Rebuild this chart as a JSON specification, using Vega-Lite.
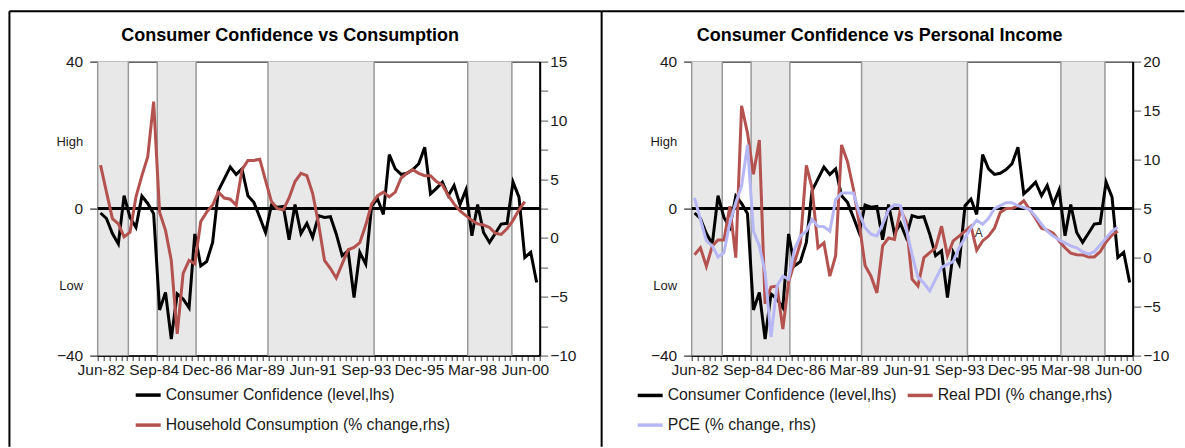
{
  "$schema": "https://vega.github.io/schema/vega-lite/v6.json",
  "padding": {"left": 7.7, "top": 9.6, "right": 0, "bottom": 0},
  "background": "white",
  "bounds": "flush",
  "spacing": 152,
  "config": {
    "font": "Liberation Sans",
    "view": {"stroke": "#000", "strokeWidth": 1},
    "axis": {"labelFont": "Liberation Sans", "labelFontSize": 15.5, "labelColor": "#1a1a1a", "domainColor": "#000", "tickColor": "#333", "grid": false}
  },
  "resolve": {"scale": {"color": "independent"}, "legend": {"color": "independent"}},
  "datasets": {
    "q": [
      {"d": "1982-05-15", "cc": -1.2, "hc": 6.2, "pdi": 0.3, "pce": 6.1},
      {"d": "1982-08-15", "cc": -2.7, "hc": 3.9, "pdi": 1.0, "pce": 3.9},
      {"d": "1982-11-15", "cc": -6.8, "hc": 1.65, "pdi": -0.9, "pce": 1.7},
      {"d": "1983-02-15", "cc": -9.6, "hc": 1.2, "pdi": 1.2, "pce": 1.2},
      {"d": "1983-05-15", "cc": 3.5, "hc": 0.1, "pdi": 1.8, "pce": 0.07},
      {"d": "1983-08-15", "cc": -2.4, "hc": 0.5, "pdi": 1.8, "pce": 0.5},
      {"d": "1983-11-15", "cc": -5.1, "hc": 3.5, "pdi": 5.25, "pce": 3.55},
      {"d": "1984-02-15", "cc": 3.4, "hc": 5.3, "pdi": 0.0, "pce": 5.6},
      {"d": "1984-05-15", "cc": 1.4, "hc": 6.9, "pdi": 15.5, "pce": 7.3},
      {"d": "1984-08-15", "cc": -1.4, "hc": 11.6, "pdi": 12.7, "pce": 11.5},
      {"d": "1984-11-15", "cc": -27.6, "hc": 2.2, "pdi": 8.5, "pce": 2.7},
      {"d": "1985-02-15", "cc": -22.8, "hc": 0.65, "pdi": 12.0, "pce": 1.2},
      {"d": "1985-05-15", "cc": -35.5, "hc": -1.9, "pdi": -4.7, "pce": -1.5},
      {"d": "1985-08-15", "cc": -23.2, "hc": -8.15, "pdi": -3.0, "pce": -8.1},
      {"d": "1985-11-15", "cc": -24.6, "hc": -3.0, "pdi": -2.9, "pce": -2.9},
      {"d": "1986-02-15", "cc": -27.0, "hc": -1.9, "pdi": -7.3, "pce": -1.9},
      {"d": "1986-05-15", "cc": -6.9, "hc": -2.2, "pdi": -2.5, "pce": -2.2},
      {"d": "1986-08-15", "cc": -15.6, "hc": 1.4, "pdi": -0.5, "pce": 0.85},
      {"d": "1986-11-15", "cc": -14.4, "hc": 2.2, "pdi": 1.5, "pce": 2.2},
      {"d": "1987-02-15", "cc": -9.2, "hc": 2.8, "pdi": 9.4, "pce": 2.7},
      {"d": "1987-05-15", "cc": 4.9, "hc": 3.9, "pdi": 7.1, "pce": 3.9},
      {"d": "1987-08-15", "cc": 8.1, "hc": 3.4, "pdi": 1.0, "pce": 3.2},
      {"d": "1987-11-15", "cc": 11.3, "hc": 3.3, "pdi": 1.5, "pce": 3.15},
      {"d": "1988-02-15", "cc": 9.3, "hc": 2.8, "pdi": -1.9, "pce": 2.7},
      {"d": "1988-05-15", "cc": 10.8, "hc": 5.8, "pdi": 0.2, "pce": 5.9},
      {"d": "1988-08-15", "cc": 3.5, "hc": 6.6, "pdi": 11.5, "pce": 6.6},
      {"d": "1988-11-15", "cc": 1.7, "hc": 6.6, "pdi": 9.8, "pce": 6.6},
      {"d": "1989-02-15", "cc": -2.4, "hc": 6.7, "pdi": 7.0, "pce": 6.6},
      {"d": "1989-05-15", "cc": -6.5, "hc": 4.9, "pdi": 3.5, "pce": 4.6},
      {"d": "1989-08-15", "cc": 1.0, "hc": 3.1, "pdi": -0.8, "pce": 3.05},
      {"d": "1989-11-15", "cc": 0.4, "hc": 2.5, "pdi": -1.9, "pce": 2.4},
      {"d": "1990-02-15", "cc": 0.6, "hc": 2.4, "pdi": -3.6, "pce": 2.2},
      {"d": "1990-05-15", "cc": -8.5, "hc": 3.4, "pdi": 1.2, "pce": 3.4},
      {"d": "1990-08-15", "cc": 1.1, "hc": 4.8, "pdi": 2.0, "pce": 4.9},
      {"d": "1990-11-15", "cc": -6.8, "hc": 5.5, "pdi": 1.85, "pce": 5.4},
      {"d": "1991-02-15", "cc": -4.0, "hc": 5.3, "pdi": 4.9, "pce": 5.3},
      {"d": "1991-05-15", "cc": -7.8, "hc": 3.8, "pdi": 3.7, "pce": 3.0},
      {"d": "1991-08-15", "cc": -1.9, "hc": 1.2, "pdi": -2.2, "pce": 0.3},
      {"d": "1991-11-15", "cc": -2.4, "hc": -1.9, "pdi": -2.9, "pce": -2.0},
      {"d": "1992-02-15", "cc": -2.2, "hc": -2.6, "pdi": 0.0, "pce": -2.6},
      {"d": "1992-05-15", "cc": -6.9, "hc": -3.4, "pdi": 0.5, "pce": -3.4},
      {"d": "1992-08-15", "cc": -12.8, "hc": -2.2, "pdi": 1.0, "pce": -2.2},
      {"d": "1992-11-15", "cc": -11.5, "hc": -1.0, "pdi": 3.2, "pce": -1.0},
      {"d": "1993-02-15", "cc": -24.2, "hc": -0.8, "pdi": 0.2, "pce": -0.7},
      {"d": "1993-05-15", "cc": -11.9, "hc": -0.4, "pdi": 1.7, "pce": -0.4},
      {"d": "1993-08-15", "cc": -15.1, "hc": 1.1, "pdi": 2.2, "pce": 1.0},
      {"d": "1993-11-15", "cc": 0.8, "hc": 2.9, "pdi": 2.7, "pce": 2.0},
      {"d": "1994-02-15", "cc": 2.6, "hc": 3.6, "pdi": 3.2, "pce": 3.05},
      {"d": "1994-05-15", "cc": -1.6, "hc": 3.9, "pdi": 0.75, "pce": 3.8},
      {"d": "1994-08-15", "cc": 14.7, "hc": 3.5, "pdi": 1.7, "pce": 3.4},
      {"d": "1994-11-15", "cc": 10.8, "hc": 3.9, "pdi": 2.2, "pce": 4.0},
      {"d": "1995-02-15", "cc": 9.3, "hc": 5.1, "pdi": 3.0, "pce": 5.0},
      {"d": "1995-05-15", "cc": 9.6, "hc": 5.5, "pdi": 4.6, "pce": 5.3},
      {"d": "1995-08-15", "cc": 10.6, "hc": 5.8, "pdi": 5.0, "pce": 5.6},
      {"d": "1995-11-15", "cc": 12.2, "hc": 5.5, "pdi": 5.0, "pce": 5.6},
      {"d": "1996-02-15", "cc": 16.7, "hc": 5.3, "pdi": 5.3, "pce": 5.3},
      {"d": "1996-05-15", "cc": 4.0, "hc": 5.3, "pdi": 5.8, "pce": 5.1},
      {"d": "1996-08-15", "cc": 5.5, "hc": 4.8, "pdi": 4.9, "pce": 4.9},
      {"d": "1996-11-15", "cc": 7.2, "hc": 4.5, "pdi": 4.0, "pce": 4.2},
      {"d": "1997-02-15", "cc": 3.5, "hc": 3.6, "pdi": 3.0, "pce": 3.4},
      {"d": "1997-05-15", "cc": 6.3, "hc": 2.9, "pdi": 2.8, "pce": 2.7},
      {"d": "1997-08-15", "cc": 1.1, "hc": 2.3, "pdi": 2.5, "pce": 2.2},
      {"d": "1997-11-15", "cc": 5.1, "hc": 1.9, "pdi": 1.7, "pce": 1.8},
      {"d": "1998-02-15", "cc": -7.4, "hc": 1.5, "pdi": 1.0, "pce": 1.5},
      {"d": "1998-05-15", "cc": 1.1, "hc": 1.2, "pdi": 0.45, "pce": 1.2},
      {"d": "1998-08-15", "cc": -6.5, "hc": 1.1, "pdi": 0.3, "pce": 1.0},
      {"d": "1998-11-15", "cc": -9.2, "hc": 0.9, "pdi": 0.27, "pce": 0.6},
      {"d": "1999-02-15", "cc": -6.7, "hc": 0.4, "pdi": 0.05, "pce": 0.35},
      {"d": "1999-05-15", "cc": -4.2, "hc": 0.3, "pdi": 0.07, "pce": 0.6},
      {"d": "1999-08-15", "cc": -4.0, "hc": 0.8, "pdi": 0.6, "pce": 1.3},
      {"d": "1999-11-15", "cc": 7.2, "hc": 1.5, "pdi": 1.6, "pce": 2.0},
      {"d": "2000-02-15", "cc": 3.1, "hc": 2.4, "pdi": 2.3, "pce": 2.7},
      {"d": "2000-05-15", "cc": -13.3, "hc": 3.1, "pdi": 2.7, "pce": 3.1},
      {"d": "2000-08-15", "cc": -11.9, "hc": null, "pdi": null, "pce": null},
      {"d": "2000-11-15", "cc": -20.1, "hc": null, "pdi": null, "pce": null}
    ],
    "shade": [
      {"start": "1982-04-01", "end": "1983-07-20"},
      {"start": "1984-10-10", "end": "1986-06-04"},
      {"start": "1989-06-22", "end": "1993-12-22"},
      {"start": "1997-12-13", "end": "1999-10-28"}
    ]
  },
  "hconcat": [
    {
      "width": 442,
      "height": 294,
      "data": {"name": "q"},
      "layer": [
        {
          "data": {"name": "shade"},
          "mark": {"type": "rect", "fill": "#e8e8e8"},
          "encoding": {
            "x": {"field": "start", "type": "temporal", "title": null,
                  "scale": {"type": "utc", "nice": false, "domain": [{"year": 1982, "month": 4, "date": 1, "utc": true}, {"year": 2001, "month": 1, "date": 1, "utc": true}]},
                  "axis": {"orient": "bottom", "title": null, "tickCount": {"interval": "month", "step": 3},
                           "labelExpr": "((utcyear(datum.value)-1982)*4 + floor(utcmonth(datum.value)/3) - 1) % 9 == 0 ? utcFormat(utcOffset('month', datum.value, 2), '%b-%y') : ''",
                           "labelOffset": 3, "labelFlush": false, "labelOverlap": false, "labelBound": false, "labelAngle": 0,
                           "tickSize": 5, "tickColor": "#333", "domainWidth": 1.5, "labelPadding": 2}},
            "x2": {"field": "end"}
          }
        },
        {
          "data": {"name": "shade"},
          "mark": {"type": "rule", "stroke": "#9a9a9a", "strokeWidth": 1.5},
          "encoding": {"x": {"field": "start", "type": "temporal", "title": null}}
        },
        {
          "data": {"name": "shade"},
          "mark": {"type": "rule", "stroke": "#9a9a9a", "strokeWidth": 1.5},
          "encoding": {"x": {"field": "end", "type": "temporal", "title": null}}
        },
        {
          "layer": [
            {
              "data": {"values": [{}]},
              "mark": {"type": "rule", "stroke": "#000", "strokeWidth": 2},
              "encoding": {
                "x": {"datum": {"year": 1978, "month": 7, "date": 3, "utc": true}, "type": "temporal", "title": null},
                "y": {"datum": 53.71, "type": "quantitative", "title": null},
                "y2": {"datum": -64.8}
              }
            },
            {
              "data": {"values": [{}]},
              "mark": {"type": "rule", "stroke": "#000", "strokeWidth": 2},
              "encoding": {
                "x": {"datum": {"year": 2003, "month": 8, "date": 19, "utc": true}, "type": "temporal", "title": null},
                "y": {"datum": 53.71, "type": "quantitative", "title": null},
                "y2": {"datum": -64.8}
              }
            },
            {
              "data": {"values": [{}]},
              "mark": {"type": "rule", "stroke": "#000", "strokeWidth": 2},
              "encoding": {
                "x": {"datum": {"year": 1978, "month": 7, "date": 3, "utc": true}, "type": "temporal", "title": null},
                "x2": {"datum": {"year": 2003, "month": 8, "date": 19, "utc": true}},
                "y": {"datum": 53.71, "type": "quantitative", "title": null}
              }
            },
            {
              "data": {"values": [{"t": "Consumer Confidence vs Consumption"}]},
              "mark": {"type": "text", "font": "Liberation Sans", "fontSize": 18, "fontWeight": "bold", "color": "#000", "align": "center", "baseline": "alphabetic"},
              "encoding": {
                "x": {"datum": {"year": 1990, "month": 6, "date": 1, "utc": true}, "type": "temporal", "title": null},
                "y": {"datum": 45.5, "type": "quantitative", "title": null},
                "text": {"field": "t"}
              }
            },
            {
              "data": {"values": [{}]},
              "mark": {"type": "rule", "stroke": "#000", "strokeWidth": 3},
              "encoding": {"y": {"datum": 0, "type": "quantitative", "title": null}}
            },
            {
              "mark": {"type": "line", "strokeWidth": 3},
              "encoding": {
                "x": {"field": "d", "type": "temporal", "title": null},
                "y": {"field": "cc", "type": "quantitative", "title": null,
                      "scale": {"domain": [-40, 40], "nice": false, "zero": false},
                      "axis": {"orient": "left", "title": null, "values": [40, 18.3, 0, -21, -40],
                               "labelExpr": "datum.value == 18.3 ? 'High' : (datum.value == -21 ? 'Low' : datum.label)",
                               "tickOpacity": {"condition": {"test": "datum.value == 18.3 || datum.value == -21", "value": 0}, "value": 1},
                               "labelFontSize": {"condition": {"test": "datum.value == 18.3 || datum.value == -21", "value": 13}, "value": 15.5},
                               "tickSize": 8, "labelPadding": 7, "tickColor": "#000", "domainWidth": 2, "labelFlush": false}},
                "color": {"datum": "Consumer Confidence (level,lhs)",
                          "scale": {"domain": ["Consumer Confidence (level,lhs)", "Household Consumption (% change,rhs)"], "range": ["#000000", "#b3524f"]},
                          "legend": {"orient": "none", "legendX": 36, "legendY": 319, "direction": "vertical", "title": null,
                                     "symbolType": "stroke", "symbolSize": 625, "symbolStrokeWidth": 3.5,
                                     "labelFont": "Liberation Sans", "labelFontSize": 15.8, "labelColor": "#1a1a1a", "labelLimit": 600,
                                     "rowPadding": 7, "labelOffset": 3, "padding": 0}}
              }
            }
          ]
        },
        {
          "layer": [
            {
              "mark": {"type": "line", "strokeWidth": 3},
              "encoding": {
                "x": {"field": "d", "type": "temporal", "title": null},
                "y": {"field": "hc", "type": "quantitative", "title": null,
                      "scale": {"domain": [-10, 15], "nice": false, "zero": false},
                      "axis": {"orient": "right", "title": null, "values": [-10, -7.5, -5, -2.5, 0, 2.5, 5, 7.5, 10, 12.5, 15],
                               "labelExpr": "datum.value % 5 == 0 ? datum.label : ''",
                               "tickSize": 8, "labelPadding": 2, "tickColor": "#555", "domainWidth": 2, "labelFlush": false}},
                "color": {"datum": "Household Consumption (% change,rhs)"}
              }
            }
          ]
        }
      ],
      "resolve": {"scale": {"y": "independent"}}
    },
    {
      "width": 441,
      "height": 294,
      "data": {"name": "q"},
      "layer": [
        {
          "data": {"name": "shade"},
          "mark": {"type": "rect", "fill": "#e8e8e8"},
          "encoding": {
            "x": {"field": "start", "type": "temporal", "title": null,
                  "scale": {"type": "utc", "nice": false, "domain": [{"year": 1982, "month": 4, "date": 1, "utc": true}, {"year": 2001, "month": 1, "date": 1, "utc": true}]},
                  "axis": {"orient": "bottom", "title": null, "tickCount": {"interval": "month", "step": 3},
                           "labelExpr": "((utcyear(datum.value)-1982)*4 + floor(utcmonth(datum.value)/3) - 1) % 9 == 0 ? utcFormat(utcOffset('month', datum.value, 2), '%b-%y') : ''",
                           "labelOffset": 3, "labelFlush": false, "labelOverlap": false, "labelBound": false, "labelAngle": 0,
                           "tickSize": 5, "tickColor": "#333", "domainWidth": 1.5, "labelPadding": 2}},
            "x2": {"field": "end"}
          }
        },
        {
          "data": {"name": "shade"},
          "mark": {"type": "rule", "stroke": "#9a9a9a", "strokeWidth": 1.5},
          "encoding": {"x": {"field": "start", "type": "temporal", "title": null}}
        },
        {
          "data": {"name": "shade"},
          "mark": {"type": "rule", "stroke": "#9a9a9a", "strokeWidth": 1.5},
          "encoding": {"x": {"field": "end", "type": "temporal", "title": null}}
        },
        {
          "layer": [
            {
              "data": {"values": [{}]},
              "mark": {"type": "rule", "stroke": "#000", "strokeWidth": 2},
              "encoding": {
                "x": {"datum": {"year": 1978, "month": 6, "date": 3, "utc": true}, "type": "temporal", "title": null},
                "x2": {"datum": {"year": 2003, "month": 3, "date": 15, "utc": true}},
                "y": {"datum": 53.71, "type": "quantitative", "title": null}
              }
            },
            {
              "data": {"values": [{"t": "Consumer Confidence vs Personal Income"}]},
              "mark": {"type": "text", "font": "Liberation Sans", "fontSize": 18, "fontWeight": "bold", "color": "#000", "align": "center", "baseline": "alphabetic"},
              "encoding": {
                "x": {"datum": {"year": 1990, "month": 3, "date": 30, "utc": true}, "type": "temporal", "title": null},
                "y": {"datum": 45.5, "type": "quantitative", "title": null},
                "text": {"field": "t"}
              }
            },
            {
              "data": {"values": [{}]},
              "mark": {"type": "rule", "stroke": "#000", "strokeWidth": 3},
              "encoding": {"y": {"datum": 0, "type": "quantitative", "title": null}}
            },
            {
              "mark": {"type": "line", "strokeWidth": 3},
              "encoding": {
                "x": {"field": "d", "type": "temporal", "title": null},
                "y": {"field": "cc", "type": "quantitative", "title": null,
                      "scale": {"domain": [-40, 40], "nice": false, "zero": false},
                      "axis": {"orient": "left", "title": null, "values": [40, 18.3, 0, -21, -40],
                               "labelExpr": "datum.value == 18.3 ? 'High' : (datum.value == -21 ? 'Low' : datum.label)",
                               "tickOpacity": {"condition": {"test": "datum.value == 18.3 || datum.value == -21", "value": 0}, "value": 1},
                               "labelFontSize": {"condition": {"test": "datum.value == 18.3 || datum.value == -21", "value": 13}, "value": 15.5},
                               "tickSize": 8, "labelPadding": 7, "tickColor": "#000", "domainWidth": 2, "labelFlush": false}},
                "color": {"datum": "Consumer Confidence (level,lhs)",
                          "scale": {"domain": ["Consumer Confidence (level,lhs)", "PCE (% change, rhs)", "Real PDI (% change,rhs)"], "range": ["#000000", "#b7b7f5", "#b3524f"]},
                          "legend": {"orient": "none", "legendX": -56, "legendY": 319, "columns": 2, "columnPadding": 3, "title": null,
                                     "symbolType": "stroke", "symbolSize": 625, "symbolStrokeWidth": 3.5,
                                     "labelFont": "Liberation Sans", "labelFontSize": 15.8, "labelColor": "#1a1a1a", "labelLimit": 600,
                                     "rowPadding": 7, "labelOffset": 3, "padding": 0}}
              }
            }
          ]
        },
        {
          "layer": [
            {
              "mark": {"type": "line", "strokeWidth": 3},
              "encoding": {
                "x": {"field": "d", "type": "temporal", "title": null},
                "y": {"field": "pdi", "type": "quantitative", "title": null,
                      "scale": {"domain": [-10, 20], "nice": false, "zero": false},
                      "axis": {"orient": "right", "title": null, "values": [-10, -7.5, -5, -2.5, 0, 2.5, 5, 7.5, 10, 12.5, 15, 17.5, 20],
                               "labelExpr": "datum.value % 5 == 0 ? datum.label : ''",
                               "tickSize": 8, "labelPadding": 2, "tickColor": "#555", "domainWidth": 2, "labelFlush": false}},
                "color": {"datum": "Real PDI (% change,rhs)"}
              }
            },
            {
              "mark": {"type": "line", "strokeWidth": 3},
              "encoding": {
                "x": {"field": "d", "type": "temporal", "title": null},
                "y": {"field": "pce", "type": "quantitative", "title": null},
                "color": {"datum": "PCE (% change, rhs)"}
              }
            },
            {
              "data": {"values": [{"d": "1994-06-14", "v": 2.54, "t": "A"}]},
              "mark": {"type": "text", "font": "Liberation Sans", "fontSize": 12, "color": "#333", "align": "center", "baseline": "middle"},
              "encoding": {
                "x": {"field": "d", "type": "temporal", "title": null},
                "y": {"field": "v", "type": "quantitative", "title": null},
                "text": {"field": "t"}
              }
            }
          ]
        }
      ],
      "resolve": {"scale": {"y": "independent"}}
    }
  ]
}
